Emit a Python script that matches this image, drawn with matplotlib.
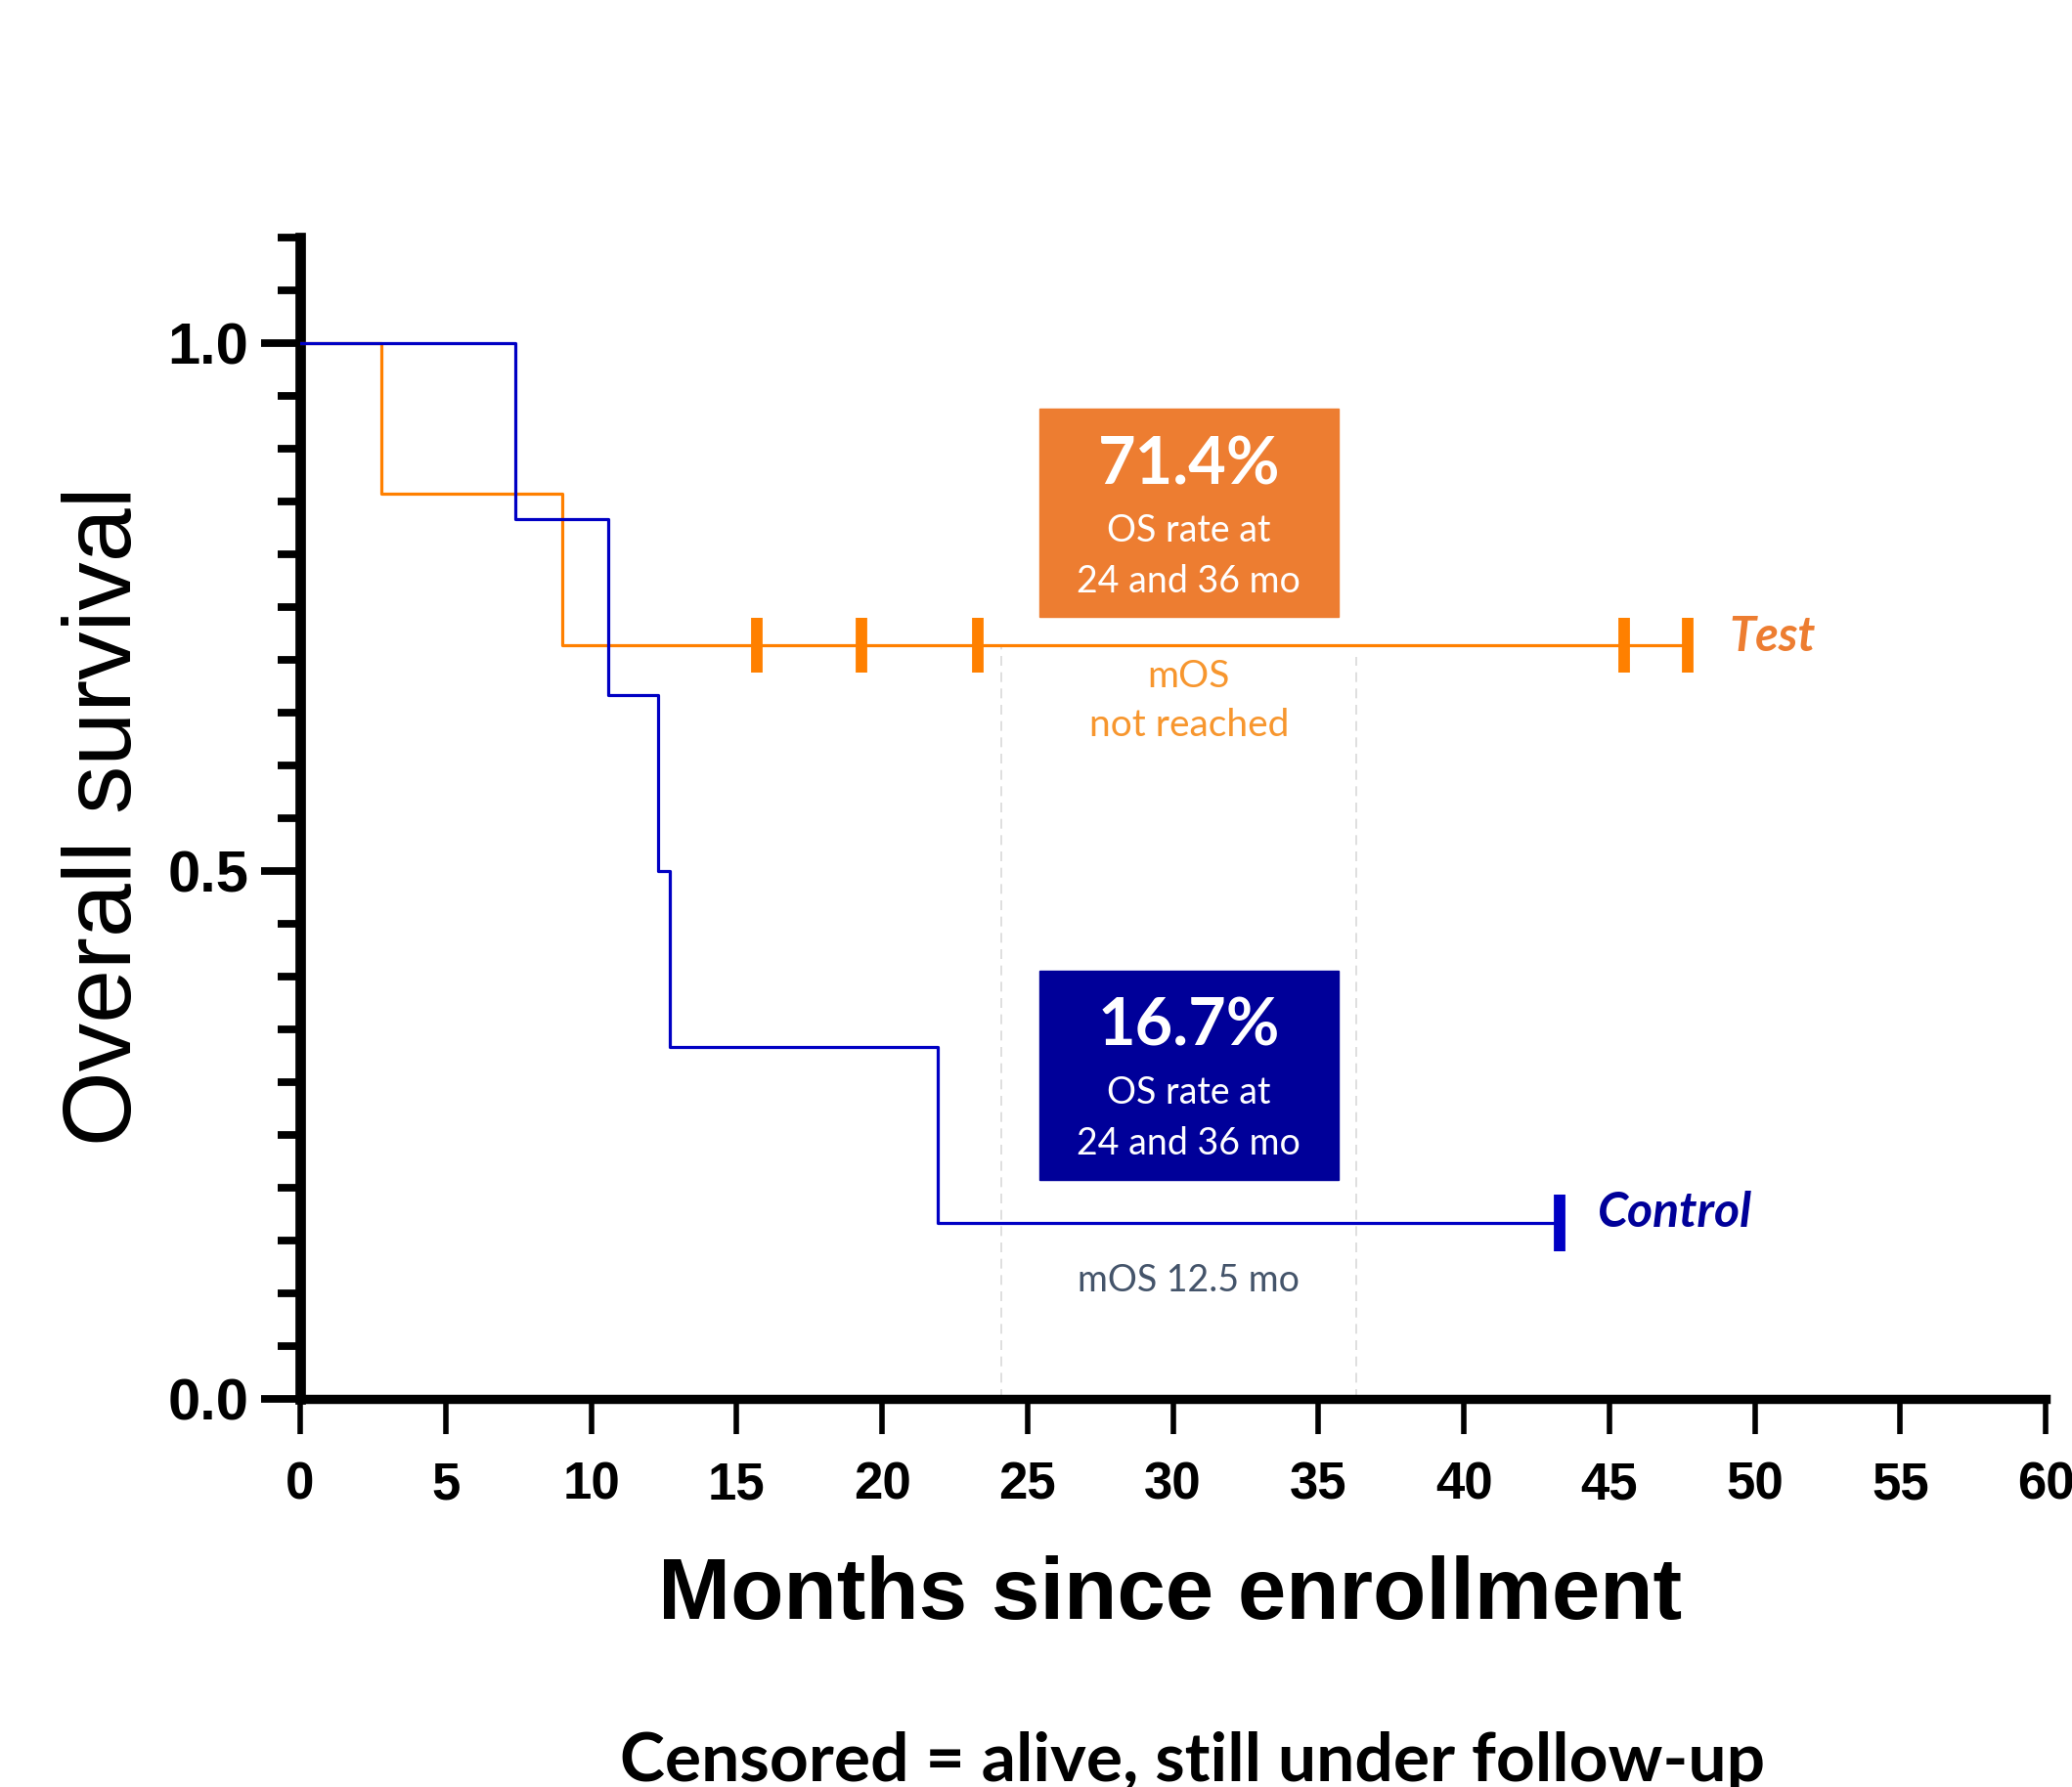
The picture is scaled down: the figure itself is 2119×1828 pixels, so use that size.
# Libraries
import numpy as np
import matplotlib
matplotlib.use('Agg')
import matplotlib.pyplot as plt
from matplotlib.patches import Rectangle
from matplotlib.ticker import MultipleLocator

# Plot parameters
plt.rcParams.update({
    'font.family': 'Liberation Sans',
    'axes.linewidth': 7,
})

# Data (Kaplan-Meier steps)
test_time = [0, 2.8, 9.0, 47.7]
test_surv = [1.0, 0.857, 0.714, 0.714]
test_cens_time = [15.7, 19.3, 23.3, 45.5, 47.7]
test_cens_surv = [0.714, 0.714, 0.714, 0.714, 0.714]

ctrl_time = [0, 7.4, 10.6, 12.3, 12.7, 21.9, 43.3]
ctrl_surv = [1.0, 0.833, 0.667, 0.5, 0.333, 0.167, 0.167]
ctrl_cens_time = [43.3]
ctrl_cens_surv = [0.167]

# Annotations
xticks = np.arange(0, 61, 5)
yticks = [0.0, 0.5, 1.0]
ytick_labels = ['0.0', '0.5', '1.0']
landmarks = [24.1, 36.3]
test_rate = '71.4%'
ctrl_rate = '16.7%'

# Colours
c_test_line = '#FF8000'
c_test_box = '#ED7D31'
c_test_mos = '#F7962E'
c_ctrl_line = '#0000C4'
c_ctrl_box = '#000099'
c_gray = '#44546A'

# Figure
fig = plt.figure(figsize=(21.19, 18.28), dpi=100)
ax = fig.add_axes([0.1449, 0.2172, 0.8424, 0.6499])

# Landmark lines at 24 and 36 months
for xl, ytop in zip(landmarks, [0.714, 0.703]):
    ax.plot([xl, xl], [0, ytop], color='#D9D9D9', lw=1.2, ls=(0, (6, 4)), zorder=1)

# Survival curves
ax.step(test_time, test_surv, where='post', color=c_test_line, lw=2.3, zorder=3)
ax.step(ctrl_time, ctrl_surv, where='post', color=c_ctrl_line, lw=2.3, zorder=3)

# Censor marks
ax.plot(test_cens_time, test_cens_surv, ls='none', marker='|', ms=41, mew=8.5,
        color=c_test_line, clip_on=False, zorder=4)
ax.plot(ctrl_cens_time, ctrl_cens_surv, ls='none', marker='|', ms=42, mew=8.5,
        color=c_ctrl_line, clip_on=False, zorder=4)

# Rate boxes
box_x0, box_w = 25.4, 10.3
ax.add_patch(Rectangle((box_x0, 0.741), box_w, 0.197, color=c_test_box, zorder=5))
ax.add_patch(Rectangle((box_x0, 0.2074), box_w, 0.1982, color=c_ctrl_box, zorder=5))

xc = box_x0 + box_w / 2
lato = 'Lato'
for rate, y0 in [(test_rate, 0.884), (ctrl_rate, 0.352)]:
    ax.text(xc, y0, rate, color='white', fontsize=48, fontweight='bold',
            family=lato, ha='center', va='center', zorder=6)
    ax.text(xc, y0 - 0.062, 'OS rate at', color='white', fontsize=27,
            family=lato, ha='center', va='center', zorder=6)
    ax.text(xc, y0 - 0.110, '24 and 36 mo', color='white', fontsize=27,
            family=lato, ha='center', va='center', zorder=6)

# Median OS notes
ax.text(xc, 0.684, 'mOS', color=c_test_mos, fontsize=28, family=lato,
        ha='center', va='center')
ax.text(xc, 0.638, 'not reached', color=c_test_mos, fontsize=28, family=lato,
        ha='center', va='center')
ax.text(xc, 0.112, 'mOS 12.5 mo', color=c_gray, fontsize=27, family=lato,
        ha='center', va='center')

# Arm labels
ax.text(49.12, 0.722, 'Test', color=c_test_box, fontsize=35, family=lato,
        fontweight='bold', style='italic', ha='left', va='center')
ax.text(44.6, 0.176, 'Control', color=c_ctrl_box, fontsize=36, family=lato,
        fontweight='bold', style='italic', ha='left', va='center')

# Axes
ax.set_xlim(0, 60)
ax.set_ylim(0, 1.1)
ax.spines['top'].set_visible(False)
ax.spines['right'].set_visible(False)
ax.spines['left'].set_linewidth(7.7)
ax.spines['bottom'].set_linewidth(6.8)

ax.set_xticks(xticks)
ax.set_xticklabels([str(v) for v in xticks], fontsize=38, fontweight='bold')
ax.set_yticks(yticks)
ax.set_yticklabels(ytick_labels, fontsize=43, fontweight='bold')
ax.yaxis.set_minor_locator(MultipleLocator(0.05))
ax.tick_params(axis='x', which='major', direction='out', length=26, width=4, pad=20)
ax.tick_params(axis='y', which='major', direction='out', length=29, width=5.6, pad=9)
ax.tick_params(axis='y', which='minor', direction='out', length=16.5, width=5.6)

# Axis titles
fig.text(109 / 2119, 1 - 835 / 1828, 'Overall survival', rotation=90,
         fontsize=71, ha='center', va='center')
fig.text(1197 / 2119, 1 - 1633 / 1828, 'Months since enrollment',
         fontsize=64, fontweight='bold', ha='center', va='center')

# Footnote
fig.text(1220 / 2119, 1 - 1822 / 1828, 'Censored = alive, still under follow-up',
         fontsize=50, fontweight='bold', family=lato, ha='center', va='baseline')

plt.savefig('out.png', dpi=100)
